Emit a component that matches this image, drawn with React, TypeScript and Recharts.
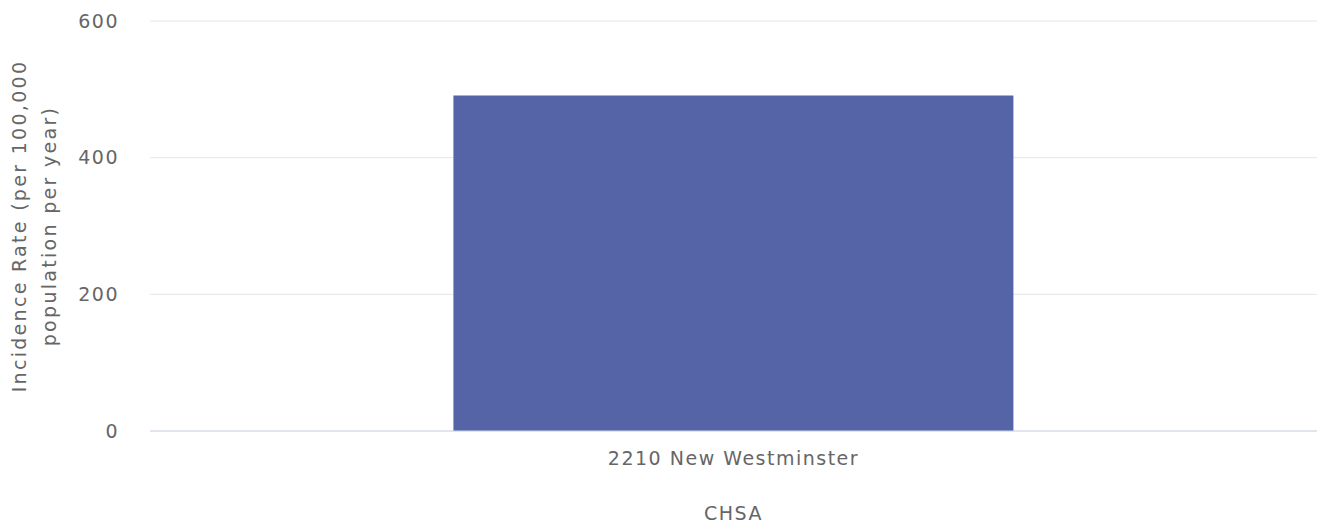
import { BarChart, Bar, XAxis, YAxis, CartesianGrid } from 'recharts'

const categories = ['2210 New Westminster']
const incidenceRates = [491]
const yTicks = [0, 200, 400, 600]

const data = categories.map((name, i) => ({ name, rate: incidenceRates[i] }))

const FONT = '"DejaVu Sans", Verdana, sans-serif'
const TEXT = '#666666'
const SIZE = 19
const SPACING = 1.5

// two-line rotated axis title, centred on the plot height
const YLabel = ({ viewBox }: any) => {
  const cy = viewBox.y + viewBox.height / 2
  return (
    <g fill={TEXT} fontFamily={FONT} fontSize={SIZE} letterSpacing={2.3}>
      <text x={19} y={cy} transform={`rotate(-90 19 ${cy})`} textAnchor="middle" dominantBaseline="central">
        Incidence Rate (per 100,000
      </text>
      <text x={49} y={cy} transform={`rotate(-90 49 ${cy})`} textAnchor="middle" dominantBaseline="central">
        population per year)
      </text>
    </g>
  )
}

const XLabel = ({ viewBox }: any) => {
  const cx = viewBox.x + viewBox.width / 2
  return (
    <text x={cx} y={520} fill={TEXT} fontFamily={FONT} fontSize={SIZE} letterSpacing={SPACING} textAnchor="middle">
      CHSA
    </text>
  )
}

export default function App() {
  return (
    <div style={{ position: 'absolute', top: 0, left: 0, background: '#fff' }}>
      <BarChart
        width={1317}
        height={523}
        data={data}
        margin={{ top: 21, right: 0, bottom: 0, left: 0 }}
        barCategoryGap="26%"
      >
        <CartesianGrid vertical={false} stroke="#e6e6e6" />
        <XAxis
          dataKey="name"
          height={92}
          tickLine={false}
          axisLine={{ stroke: '#ccd6eb' }}
          tickMargin={15}
          tick={{ fill: TEXT, fontSize: SIZE, fontFamily: FONT, letterSpacing: SPACING }}
          label={<XLabel />}
        />
        <YAxis
          width={150}
          domain={[0, 600]}
          ticks={yTicks}
          axisLine={false}
          tickLine={false}
          tickSize={0}
          tickMargin={31}
          tick={{ fill: TEXT, fontSize: SIZE, fontFamily: FONT, letterSpacing: SPACING }}
          label={<YLabel />}
        />
        <Bar dataKey="rate" fill="#5564a7" isAnimationActive={false} />
      </BarChart>
    </div>
  )
}
